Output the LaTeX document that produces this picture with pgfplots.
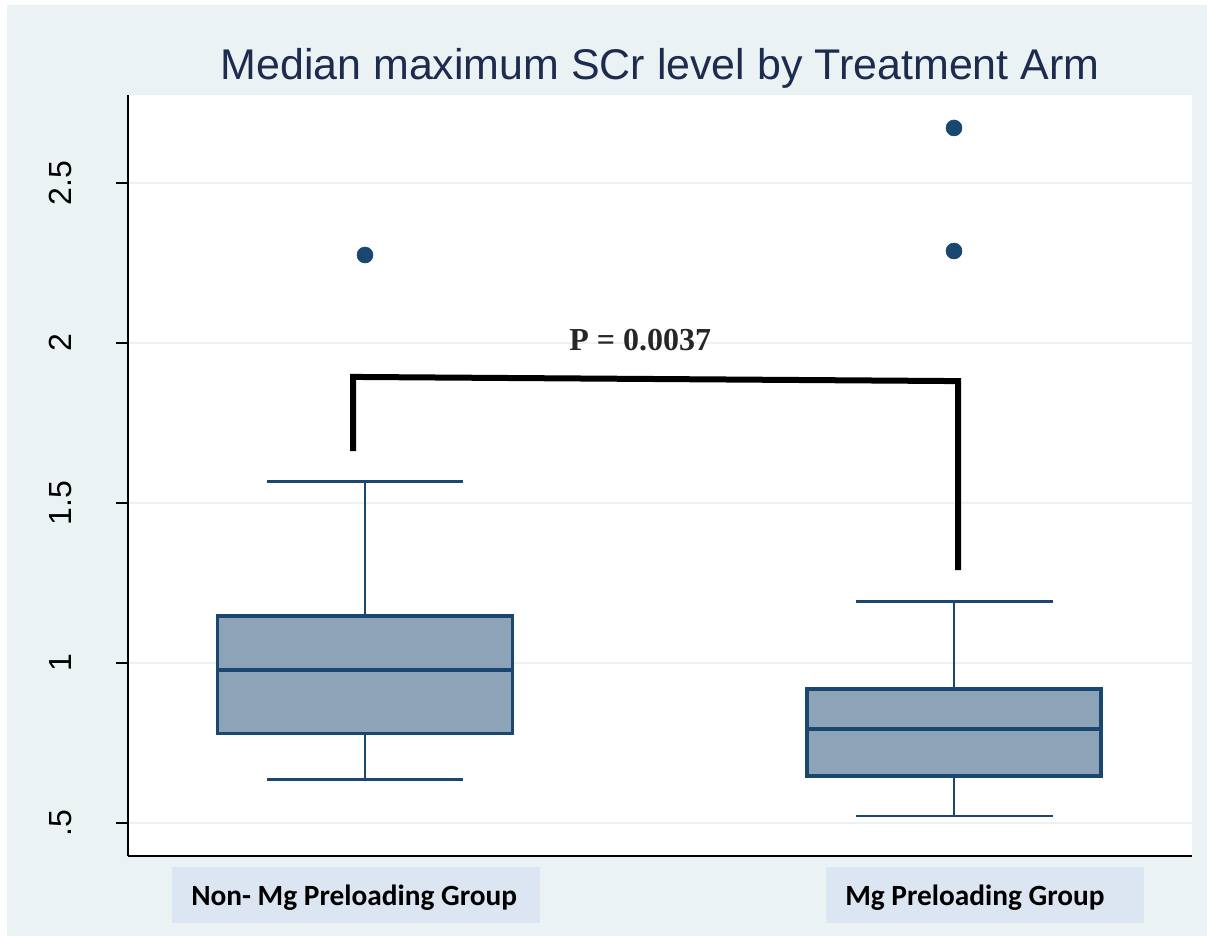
\documentclass[border=0pt]{standalone}
\usepackage{fontspec}
\setmainfont{Liberation Sans}
\newfontfamily\carlito{Carlito}
\newfontfamily\serifb{Liberation Serif}
\usepackage{pgfplots}
\pgfplotsset{compat=1.18}
\usepgfplotslibrary{statistics}
\definecolor{bgc}{RGB}{234,242,243}
\definecolor{boxfill}{RGB}{141,163,183}
\definecolor{boxedge}{RGB}{26,71,111}
\definecolor{lblbox}{RGB}{220,230,242}
\definecolor{titlec}{RGB}{29,43,79}
\begin{document}
\begin{tikzpicture}
\fill[white] (-96pt,-60pt) rectangle (809.25pt,642pt);
\fill[bgc] (-90.75pt,-60pt) rectangle (809.25pt,638.25pt);
\fill[lblbox] (33pt,-8.25pt) rectangle (309pt,-50.25pt);
\fill[lblbox] (523.5pt,-8.25pt) rectangle (762pt,-50.25pt);
\node[anchor=base west, inner sep=0pt, font=\carlito\bfseries\fontsize{22}{26}\selectfont] at (47.25pt,-36.75pt) {Non- Mg Preloading Group};
\node[anchor=base west, inner sep=0pt, font=\carlito\bfseries\fontsize{22}{26}\selectfont] at (537.75pt,-36.75pt) {Mg Preloading Group};
\begin{axis}[at={(0,0)}, anchor=south west, scale only axis,
  width=798pt, height=570.75pt,
  xmin=0, xmax=10.64, ymin=0.397, ymax=2.775,
  axis background/.style={fill=white},
  axis x line*=bottom, axis y line*=left,
  axis line style={black, line width=1.2pt, -},
  xtick=\empty,
  ytick={0.5,1,1.5,2,2.5}, yticklabels={.5,1,1.5,2,2.5},
  ymajorgrids, grid style={bgc, line width=1.8pt},
  tick align=outside, major tick length=9pt,
  tick style={black, line width=1.2pt},
  /pgf/number format/assume math mode=true,
  yticklabel style={rotate=90, anchor=south, inner sep=0pt, font=\fontsize{24}{28}\selectfont},
  yticklabel shift=33pt,
  boxplot/draw direction=y,
  boxplot/every box/.style={draw=boxedge, fill=boxfill, line width=2.4pt, line join=miter},
  boxplot/every median/.style={draw=boxedge, line width=2.4pt},
  boxplot/every whisker/.style={draw=boxedge, line width=2.2pt},
  clip=false]
\addplot[draw=boxedge, fill=boxfill, line width=2.4pt,
  boxplot prepared={draw direction=y, draw position=2.37, lower whisker=0.6375, lower quartile=0.781,
    median=0.978, upper quartile=1.147, upper whisker=1.566,
    box extend=2.95, whisker extend=1.96}] coordinates {};
\addplot[draw=boxedge, fill=boxfill, line width=2.4pt,
  boxplot prepared={draw direction=y, draw position=8.26, lower whisker=0.522, lower quartile=0.647,
    median=0.794, upper quartile=0.919, upper whisker=1.191,
    box extend=2.94, whisker extend=1.97}] coordinates {};
\addplot[only marks, mark=*, mark size=6pt, boxedge, mark options={draw=boxedge, fill=boxedge}]
  coordinates {(2.37,2.275) (8.26,2.672) (8.26,2.2875)};
\addplot[black, line width=4.5pt, line join=miter, line cap=butt]
  coordinates {(2.25,1.6625) (2.25,1.894) (8.30,1.881) (8.30,1.29)};
\node[anchor=base west, inner sep=0pt, font=\serifb\bfseries\fontsize{24}{28}\selectfont, text=black!85]
  at (axis cs:4.41,1.978) {P = 0.0037};
\node[anchor=base, inner sep=0pt, font=\fontsize{32.2}{38}\selectfont, text=titlec]
  at (rel axis cs:0.5,1) [yshift=11.25pt] {Median maximum SCr level by Treatment Arm};
\end{axis}
\pgfresetboundingbox
\path (-96pt,-60pt) rectangle (809.25pt,642pt);
\end{tikzpicture}
\end{document}
